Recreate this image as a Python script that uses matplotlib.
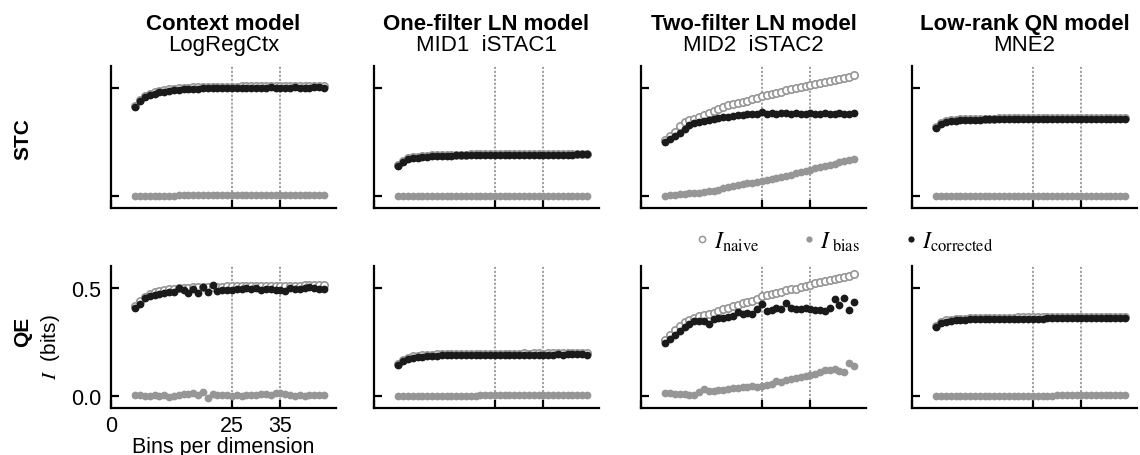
import matplotlib
matplotlib.use("Agg")
import matplotlib.pyplot as plt
from matplotlib.lines import Line2D

plt.rcParams['font.family'] = ['Liberation Sans', 'DejaVu Sans']
plt.rcParams['mathtext.fontset'] = 'stix'

# bins per dimension
bins = list(range(5, 45))

titles = ["Context model", "One-filter LN model", "Two-filter LN model", "Low-rank QN model"]
subtitles = ["LogRegCtx", "MID1  iSTAC1", "MID2  iSTAC2", "MNE2"]
rows = ["STC", "QE"]

# ---- STC row ----
stc_ctx_naive = [0.418, 0.445, 0.461, 0.471, 0.478, 0.484, 0.488, 0.492, 0.495, 0.497,
                 0.499, 0.500, 0.501, 0.502, 0.503, 0.503, 0.504, 0.504, 0.505, 0.505,
                 0.505, 0.505, 0.506, 0.506, 0.506, 0.507, 0.506, 0.507, 0.507, 0.507,
                 0.507, 0.508, 0.508, 0.508, 0.508, 0.508, 0.509, 0.509, 0.509, 0.509]
stc_ctx_bias = [0.002, 0.002, 0.002, 0.003, 0.003, 0.003, 0.003, 0.003, 0.003, 0.004,
                0.004, 0.004, 0.004, 0.004, 0.004, 0.005, 0.005, 0.005, 0.005, 0.005,
                0.005, 0.005, 0.006, 0.006, 0.006, 0.006, 0.006, 0.006, 0.007, 0.007,
                0.007, 0.007, 0.007, 0.007, 0.008, 0.008, 0.008, 0.008, 0.008, 0.008]
stc_ctx_corr = [0.413, 0.440, 0.455, 0.465, 0.472, 0.478, 0.482, 0.486, 0.489, 0.491,
                0.493, 0.494, 0.495, 0.496, 0.497, 0.497, 0.498, 0.498, 0.498, 0.499,
                0.499, 0.499, 0.500, 0.499, 0.500, 0.500, 0.499, 0.500, 0.501, 0.500,
                0.499, 0.500, 0.500, 0.501, 0.500, 0.499, 0.500, 0.501, 0.502, 0.500]

stc_ln1_naive = [0.142, 0.164, 0.174, 0.179, 0.182, 0.185, 0.187, 0.188, 0.189, 0.190,
                 0.191, 0.191, 0.192, 0.192, 0.192, 0.193, 0.193, 0.193, 0.193, 0.194,
                 0.194, 0.194, 0.194, 0.194, 0.195, 0.195, 0.195, 0.195, 0.195, 0.195,
                 0.196, 0.196, 0.196, 0.196, 0.196, 0.196, 0.196, 0.197, 0.197, 0.197]
stc_ln1_bias = [0.002, 0.002, 0.002, 0.002, 0.002, 0.002, 0.002, 0.002, 0.002, 0.002,
                0.002, 0.002, 0.002, 0.002, 0.002, 0.002, 0.003, 0.003, 0.003, 0.003,
                0.003, 0.003, 0.003, 0.003, 0.003, 0.003, 0.003, 0.003, 0.003, 0.003,
                0.003, 0.003, 0.003, 0.003, 0.003, 0.003, 0.003, 0.003, 0.003, 0.003]
stc_ln1_corr = [0.138, 0.160, 0.170, 0.175, 0.178, 0.181, 0.183, 0.184, 0.185, 0.186,
                0.187, 0.187, 0.188, 0.188, 0.188, 0.189, 0.189, 0.189, 0.189, 0.190,
                0.190, 0.190, 0.190, 0.190, 0.191, 0.191, 0.191, 0.191, 0.191, 0.191,
                0.192, 0.192, 0.192, 0.192, 0.192, 0.192, 0.192, 0.193, 0.193, 0.193]

stc_ln2_naive = [0.258, 0.278, 0.298, 0.322, 0.340, 0.350, 0.358, 0.367, 0.375, 0.384,
                 0.392, 0.402, 0.412, 0.421, 0.424, 0.429, 0.433, 0.440, 0.447, 0.453,
                 0.461, 0.466, 0.470, 0.476, 0.482, 0.488, 0.493, 0.498, 0.502, 0.507,
                 0.513, 0.517, 0.521, 0.526, 0.530, 0.534, 0.540, 0.545, 0.550, 0.558]
stc_ln2_bias = [0.003, 0.005, 0.007, 0.009, 0.011, 0.013, 0.015, 0.017, 0.019, 0.022,
                0.025, 0.030, 0.036, 0.042, 0.048, 0.052, 0.056, 0.060, 0.063, 0.066,
                0.069, 0.074, 0.078, 0.083, 0.088, 0.093, 0.099, 0.106, 0.111, 0.117,
                0.123, 0.128, 0.134, 0.140, 0.145, 0.150, 0.156, 0.161, 0.166, 0.172]
stc_ln2_corr = [0.249, 0.262, 0.276, 0.290, 0.310, 0.328, 0.336, 0.342, 0.347, 0.351,
                0.355, 0.359, 0.363, 0.366, 0.370, 0.374, 0.376, 0.378, 0.380, 0.379,
                0.386, 0.381, 0.383, 0.380, 0.384, 0.382, 0.379, 0.384, 0.381, 0.379,
                0.382, 0.380, 0.379, 0.383, 0.380, 0.378, 0.384, 0.381, 0.378, 0.383]

stc_qn_naive = [0.319, 0.339, 0.346, 0.350, 0.352, 0.354, 0.355, 0.356, 0.357, 0.357,
                0.358, 0.358, 0.358, 0.359, 0.359, 0.359, 0.359, 0.359, 0.360, 0.360,
                0.360, 0.360, 0.360, 0.360, 0.360, 0.361, 0.361, 0.361, 0.361, 0.361,
                0.361, 0.361, 0.361, 0.361, 0.362, 0.362, 0.362, 0.362, 0.362, 0.362]
stc_qn_bias = [0.002, 0.002, 0.002, 0.002, 0.002, 0.002, 0.002, 0.002, 0.002, 0.002,
               0.002, 0.002, 0.002, 0.002, 0.002, 0.002, 0.002, 0.002, 0.002, 0.002,
               0.003, 0.003, 0.003, 0.003, 0.003, 0.003, 0.003, 0.003, 0.003, 0.003,
               0.003, 0.003, 0.003, 0.003, 0.003, 0.003, 0.003, 0.003, 0.003, 0.003]
stc_qn_corr = [0.315, 0.335, 0.342, 0.346, 0.348, 0.350, 0.351, 0.352, 0.353, 0.353,
               0.354, 0.354, 0.354, 0.355, 0.355, 0.355, 0.355, 0.355, 0.356, 0.356,
               0.356, 0.356, 0.356, 0.356, 0.356, 0.357, 0.357, 0.357, 0.357, 0.357,
               0.357, 0.357, 0.357, 0.357, 0.358, 0.358, 0.358, 0.358, 0.358, 0.358]

# ---- QE row ----
qe_ctx_naive = [0.415, 0.438, 0.458, 0.470, 0.478, 0.484, 0.488, 0.492, 0.495, 0.497,
                0.499, 0.500, 0.501, 0.502, 0.503, 0.504, 0.504, 0.505, 0.505, 0.506,
                0.506, 0.507, 0.507, 0.507, 0.508, 0.508, 0.508, 0.509, 0.509, 0.509,
                0.509, 0.510, 0.510, 0.510, 0.510, 0.511, 0.511, 0.511, 0.511, 0.512]
qe_ctx_bias = [0.008, 0.004, 0.002, 0.003, 0.004, 0.003, 0.005, -0.004, 0.002, 0.006,
               0.012, 0.009, 0.016, 0.004, 0.018, -0.008, 0.010, 0.005, 0.006, 0.004,
               0.003, 0.005, 0.002, 0.006, 0.004, 0.007, 0.009, 0.012, 0.008, 0.015,
               0.013, 0.010, 0.006, 0.001, 0.004, 0.002, 0.005, 0.006, 0.007, 0.008]
qe_ctx_corr = [0.405, 0.425, 0.452, 0.462, 0.468, 0.473, 0.476, 0.478, 0.480, 0.500,
               0.490, 0.476, 0.492, 0.477, 0.503, 0.482, 0.512, 0.487, 0.490, 0.491,
               0.490, 0.494, 0.493, 0.500, 0.493, 0.498, 0.489, 0.496, 0.492, 0.488,
               0.490, 0.487, 0.497, 0.496, 0.494, 0.500, 0.502, 0.497, 0.495, 0.495]

qe_ln1_naive = [0.148, 0.169, 0.178, 0.184, 0.187, 0.189, 0.191, 0.192, 0.193, 0.194,
                0.194, 0.194, 0.195, 0.195, 0.195, 0.196, 0.195, 0.196, 0.196, 0.196,
                0.197, 0.197, 0.196, 0.197, 0.197, 0.197, 0.198, 0.197, 0.198, 0.198,
                0.197, 0.198, 0.198, 0.199, 0.198, 0.199, 0.199, 0.199, 0.200, 0.198]
qe_ln1_bias = [0.002, 0.002, 0.002, 0.002, 0.002, 0.002, 0.002, 0.003, 0.003, 0.003,
               0.003, 0.003, 0.003, 0.003, 0.003, 0.003, 0.003, 0.004, 0.004, 0.004,
               0.004, 0.004, 0.004, 0.004, 0.004, 0.004, 0.005, 0.005, 0.005, 0.005,
               0.005, 0.006, 0.005, 0.005, 0.006, 0.006, 0.006, 0.006, 0.006, 0.006]
qe_ln1_corr = [0.143, 0.163, 0.172, 0.178, 0.181, 0.183, 0.185, 0.186, 0.187, 0.188,
               0.188, 0.188, 0.189, 0.189, 0.189, 0.190, 0.189, 0.190, 0.190, 0.190,
               0.191, 0.191, 0.190, 0.191, 0.191, 0.191, 0.192, 0.191, 0.192, 0.192,
               0.191, 0.192, 0.192, 0.193, 0.192, 0.193, 0.193, 0.193, 0.194, 0.192]

qe_ln2_naive = [0.260, 0.282, 0.305, 0.325, 0.342, 0.352, 0.360, 0.368, 0.376, 0.380,
                0.385, 0.392, 0.400, 0.408, 0.415, 0.422, 0.428, 0.432, 0.440, 0.448,
                0.460, 0.465, 0.470, 0.476, 0.481, 0.488, 0.492, 0.496, 0.502, 0.508,
                0.514, 0.520, 0.525, 0.530, 0.536, 0.541, 0.546, 0.550, 0.553, 0.561]
qe_ln2_bias = [0.015, 0.013, 0.011, 0.010, 0.009, 0.008, 0.006, 0.020, 0.034, 0.024,
               0.026, 0.028, 0.030, 0.034, 0.036, 0.038, 0.042, 0.044, 0.046, 0.043,
               0.047, 0.052, 0.058, 0.070, 0.068, 0.075, 0.080, 0.084, 0.087, 0.092,
               0.099, 0.103, 0.110, 0.120, 0.121, 0.124, 0.117, 0.113, 0.153, 0.138]
qe_ln2_corr = [0.244, 0.262, 0.280, 0.300, 0.318, 0.335, 0.348, 0.347, 0.345, 0.333,
               0.358, 0.360, 0.362, 0.366, 0.372, 0.390, 0.378, 0.385, 0.381, 0.400,
               0.425, 0.392, 0.397, 0.405, 0.401, 0.428, 0.405, 0.400, 0.403, 0.407,
               0.404, 0.397, 0.399, 0.395, 0.405, 0.446, 0.420, 0.452, 0.398, 0.432]

qe_qn_naive = [0.324, 0.342, 0.349, 0.353, 0.355, 0.357, 0.358, 0.359, 0.360, 0.360,
               0.361, 0.361, 0.361, 0.362, 0.362, 0.362, 0.362, 0.363, 0.363, 0.363,
               0.363, 0.363, 0.364, 0.364, 0.364, 0.364, 0.364, 0.364, 0.365, 0.365,
               0.365, 0.365, 0.365, 0.365, 0.366, 0.366, 0.366, 0.366, 0.366, 0.366]
qe_qn_bias = [0.002, 0.002, 0.002, 0.002, 0.002, 0.002, 0.002, 0.002, 0.002, 0.002,
              0.002, 0.003, 0.003, 0.003, 0.003, 0.003, 0.003, 0.003, 0.003, 0.003,
              0.003, 0.003, 0.003, 0.003, 0.003, 0.004, 0.004, 0.004, 0.004, 0.004,
              0.004, 0.004, 0.004, 0.004, 0.004, 0.004, 0.004, 0.004, 0.004, 0.004]
qe_qn_corr = [0.320, 0.338, 0.344, 0.348, 0.350, 0.352, 0.353, 0.354, 0.355, 0.355,
              0.356, 0.356, 0.356, 0.357, 0.357, 0.357, 0.357, 0.358, 0.358, 0.358,
              0.358, 0.358, 0.358, 0.359, 0.359, 0.359, 0.359, 0.359, 0.359, 0.359,
              0.360, 0.360, 0.360, 0.360, 0.360, 0.360, 0.360, 0.360, 0.361, 0.361]

panels = [
    [(stc_ctx_naive, stc_ctx_bias, stc_ctx_corr), (stc_ln1_naive, stc_ln1_bias, stc_ln1_corr),
     (stc_ln2_naive, stc_ln2_bias, stc_ln2_corr), (stc_qn_naive, stc_qn_bias, stc_qn_corr)],
    [(qe_ctx_naive, qe_ctx_bias, qe_ctx_corr), (qe_ln1_naive, qe_ln1_bias, qe_ln1_corr),
     (qe_ln2_naive, qe_ln2_bias, qe_ln2_corr), (qe_qn_naive, qe_qn_bias, qe_qn_corr)],
]

W, H = 1140, 456
gray = '#969696'
dark = '#1a1a1a'

fig = plt.figure(figsize=(W / 100, H / 100), dpi=100)

col_left = [111, 374, 641, 912]   # px
row_top = [67, 267]               # px
ax_w, ax_h = 225, 142

for r in range(2):
    for c in range(4):
        ax = fig.add_axes([col_left[c] / W, 1 - (row_top[r] + ax_h) / H, ax_w / W, ax_h / H])
        naive, bias, corr = panels[r][c]
        for xv in (25, 35):
            ax.axvline(xv, color='#999999', ls=(0, (1.2, 1.0)), lw=1.3, zorder=0)
        ax.plot(bins, naive, 'o', ms=5.3, mfc='white', mec=gray, mew=1.2, ls='none', zorder=2)
        ax.plot(bins, bias, 'o', ms=5.6, mfc=gray, mec=gray, mew=0, ls='none', zorder=3)
        ax.plot(bins, corr, 'o', ms=5.6, mfc=dark, mec=dark, mew=0, ls='none', zorder=4)
        ax.set_xlim(0, 46.5)
        ax.set_ylim(-0.054, 0.6)
        ax.set_xticks([0, 25, 35])
        ax.set_yticks([0, 0.5])
        ax.set_yticklabels(['0.0', '0.5'])
        for s in ('top', 'right'):
            ax.spines[s].set_visible(False)
        for s in ('left', 'bottom'):
            ax.spines[s].set_linewidth(1.6)
        ax.tick_params(direction='in', length=6, width=1.6, labelsize=15.5, pad=7)
        ax.tick_params(axis='x', pad=5)
        if r == 1 and c == 0:
            ax.set_xlabel('Bins per dimension', fontsize=15.5, labelpad=0)
        else:
            ax.tick_params(labelbottom=False, labelleft=False)
        if r == 0:
            ax.text(0.5, (209 - 30) / ax_h, titles[c], transform=ax.transAxes, ha='center',
                    va='baseline', fontsize=16, fontweight='bold')
            ax.text(0.5, (209 - 51) / ax_h, subtitles[c], transform=ax.transAxes, ha='center',
                    va='baseline', fontsize=16)

fig.text(23 / W, 1 - 139 / H, rows[0], rotation=90, ha='center', va='center',
         fontsize=15, fontweight='bold')
fig.text(23 / W, 1 - 332 / H, rows[1], rotation=90, ha='center', va='center',
         fontsize=15, fontweight='bold')
fig.text(51 / W, 1 - 347 / H, r'$I$  (bits)', rotation=90, ha='center', va='center',
         fontsize=15)

handles = [
    Line2D([], [], marker='o', ls='none', ms=4.5, mfc='white', mec=gray, mew=1.1),
    Line2D([], [], marker='o', ls='none', ms=4.5, mfc=gray, mec=gray, mew=0),
    Line2D([], [], marker='o', ls='none', ms=4.5, mfc=dark, mec=dark, mew=0),
]
labels = [r'$I_{\mathrm{naive}}$', r'$I_{\ \mathrm{bias}}$', r'$I_{\mathrm{corrected}}$']
fig.legend(handles, labels, loc='center left', bbox_to_anchor=(697 / W, 1 - 242 / H),
           ncol=3, frameon=False, fontsize=17, handlelength=0.45, handletextpad=0.25,
           columnspacing=1.9, borderpad=0, borderaxespad=0)

plt.savefig('out.png', dpi=100)
